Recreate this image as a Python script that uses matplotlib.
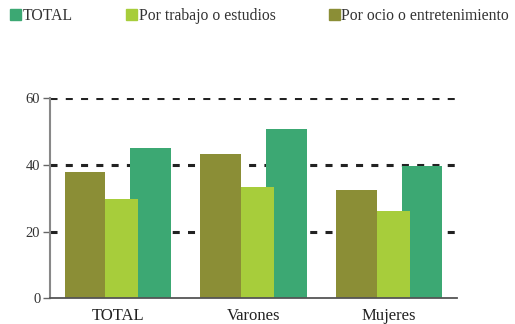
import matplotlib.pyplot as plt
import numpy as np
from matplotlib.patches import Patch

plt.rcParams['font.family'] = ['Liberation Serif', 'DejaVu Serif']

grupos = ['TOTAL', 'Varones', 'Mujeres']
series = ['TOTAL', 'Por trabajo o estudios', 'Por ocio o entretenimiento']
total = [45.1, 50.8, 39.7]
trabajo = [29.8, 33.4, 26.2]
ocio = [37.9, 43.3, 32.5]

c_total = '#3ca873'
c_trabajo = '#a7cd3b'
c_ocio = '#8b8e36'

fig = plt.figure(figsize=(5.15, 3.24), dpi=100)
ax = fig.add_axes([0.0971, 0.0793, 0.7903, 0.6173])

x = np.arange(len(grupos))
w = 0.30
d = 0.243

# dashed grid behind the bars
for v in [20, 40, 60]:
    ax.axhline(v, color='#222222', lw=2.2, linestyle=(0, (2.3, 2.7)), zorder=1)

# drawn back to front: the later bars overlap the earlier ones
ax.bar(x + d, total, w, color=c_total, zorder=2)
ax.bar(x, trabajo, w, color=c_trabajo, zorder=3)
ax.bar(x - d, ocio, w, color=c_ocio, zorder=4)

ax.set_xlim(-0.5, 2.5)
ax.set_ylim(0, 60)
ax.set_yticks([0, 20, 40, 60])
ax.set_xticks(x)
ax.set_xticklabels(grupos, fontsize=12, color='#222222')
ax.tick_params(axis='x', length=0, pad=7)
ax.tick_params(axis='y', length=5, width=1, color='#666666', labelsize=10.5,
               labelcolor='#333333', pad=2)

for s in ['top', 'right']:
    ax.spines[s].set_visible(False)
ax.spines['left'].set_color('#888888')
ax.spines['left'].set_linewidth(1.5)
ax.spines['bottom'].set_color('#555555')
ax.spines['bottom'].set_linewidth(1.3)
ax.spines['bottom'].set_zorder(5)

handles = [Patch(color=c_total), Patch(color=c_trabajo), Patch(color=c_ocio)]
fig.legend(handles, series, loc='upper left', bbox_to_anchor=(10 / 515, 1 - 8 / 324),
           ncol=3, frameon=False, fontsize=11.3, borderpad=0, borderaxespad=0,
           handlelength=0.7, handleheight=0.7, handletextpad=0.1,
           columnspacing=3.4, labelcolor='#333333')

fig.savefig('out.png', dpi=100)
